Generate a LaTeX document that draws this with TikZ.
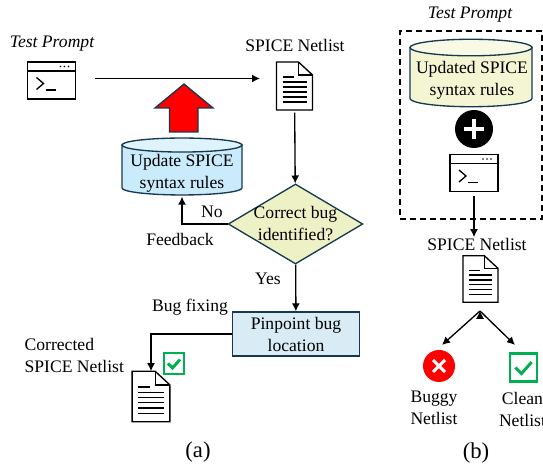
\documentclass[tikz,border=0pt]{standalone}
\usepackage{fontspec}
\setmainfont{Liberation Serif}
\usepackage{tikz}
\usetikzlibrary{arrows.meta,shapes.geometric}
\definecolor{navyline}{HTML}{17394F}
\definecolor{okgreen}{HTML}{00B050}
\definecolor{rulesblue}{HTML}{C9EBFB}
\definecolor{rulestop}{HTML}{DFF3FC}
\definecolor{rulescream}{HTML}{F4F5D2}
\definecolor{rulescreamtop}{HTML}{F9FAE6}
\definecolor{diamondfill}{HTML}{EEF1C6}
\definecolor{boxfill}{HTML}{D9ECF5}

\tikzset{
  >={Latex[length=6pt,width=6pt]},
  every node/.style={font=\fontsize{13.2}{16.5}\selectfont, align=center, inner sep=0pt},
  every path/.style={line width=1pt},
  slot/.style={minimum width=#1, minimum height=#1},
  decision/.style={draw=navyline, diamond, aspect=1.69, minimum width=101pt, minimum height=60pt, fill=diamondfill},
  caption/.style={font=\fontsize{17}{20}\selectfont},
  pics/dbdrum/.style n args={5}{code={
    \draw[navyline, fill=#4] (-#1,#3) -- (-#1,-#3) arc[start angle=180, end angle=360, x radius=#1, y radius=#2] -- (#1,#3) -- cycle;
    \draw[navyline, fill=#5] (0pt,#3) ellipse[x radius=#1, y radius=#2];
  }},
  docicon/.pic={
    \draw[fill=white, line join=miter] (-18,-24) -- (4,-24) -- (18,-11) -- (18,24) -- (-18,24) -- cycle;
    \draw (4,-24) -- (4,-11) -- (18,-11);
    \draw (-12,-9) -- (-1,-9);
    \foreach \yy in {-4,1,6,11,16} \draw (-12,\yy) -- (12,\yy);
  },
  promptwin/.pic={
    \draw[fill=white] (-24,-18.5) rectangle (24,18.5);
    \draw (-24,-9.5) -- (24,-9.5);
    \foreach \xx in {9,13,17} \fill (\xx,-14) circle (0.9);
    \draw (-15,-3) -- (-8,3) -- (-15,9);
    \draw (-6,9.5) -- (4,9.5);
  },
  tickbox/.pic={
    \draw[okgreen, line width=2.2pt, fill=white] (-10,-10.5) rectangle (10,10.5);
    \draw[okgreen, line width=2.2pt] (-6,0) -- (-1.5,4.5) -- (6,-4);
  },
  crossmark/.pic={
    \draw[white, line width=2.2pt] (-6,-6) -- (6,6) (-6,6) -- (6,-6);
  },
  plusmark/.pic={
    \draw[white, line width=3.6pt] (-10,0) -- (10,0) (0,-10) -- (0,10);
  },
}

\begin{document}
\begin{tikzpicture}[x=0.75pt, y=-0.75pt]
  \useasboundingbox (0,0) rectangle (543,466);

  % panel (a)
  \node (prompta) at (52,44) {\itshape Test Prompt};
  \node[slot=28pt] (wina) at (51.5,80.5) {};
  \pic at (wina) {promptwin};
  \node (neta) at (295,45) {SPICE Netlist};
  \node[slot=27pt] (doca) at (294.5,86) {};
  \pic at (doca) {docicon};
  \coordinate (feedout) at (95,78.5);
  \coordinate (feedin) at (260,78.5);

  \pic at (182,166.5) {dbdrum={45pt}{5.25pt}{16.1pt}{rulesblue}{rulestop}};
  \node[minimum width=90pt, minimum height=34.5pt] (update) at (182,173) {Update SPICE\\syntax rules};
  \node[decision, label={[align=center]center:Correct bug\\identified?}] (check) at (295.5,224) {};
  \node[draw=navyline, fill=boxfill, minimum width=95pt, minimum height=33pt] (locate) at (296,334) {Pinpoint bug\\location};
  \node[slot=29pt] (docb) at (151,396.5) {};
  \pic[scale=1.05] at (docb) {docicon};
  \node[slot=15pt] (tickb) at (174,363.5) {};
  \pic at (tickb) {tickbox};

  \node (no) at (212,212) {No};
  \node (feedback) at (180,239) {Feedback};
  \node (yes) at (268,279) {Yes};
  \node (fixing) at (190,307) {Bug fixing};
  \node[align=left, anchor=west] (corrected) at (24,355) {Corrected\\SPICE Netlist};
  \node[caption] (capa) at (198,452) {(a)};

  \draw[->] (feedout) -- (feedin);
  \draw[->, shorten <=6pt] (doca) edge (check);
  \draw[->] (check) -| (update);
  \draw[->] (check) edge (locate);
  \draw[->, shorten >=4pt] (locate) -| (docb);

  \draw[navyline, fill=red, miter limit=10] (184,84) -- (213,108) -- (198,108) -- (198,132) -- (169.5,132) -- (169.5,108) -- (155,108) -- cycle;

  % panel (b)
  \node (promptb) at (470,15) {\itshape Test Prompt};
  \node[draw, dash pattern=on 4.5pt off 3pt, minimum width=106.5pt, minimum height=141pt] (frame) at (471,125) {};
  \pic at (471,73) {dbdrum={45.75pt}{6.2pt}{19.1pt}{rulescream}{rulescreamtop}};
  \node (updated) at (472,80) {Updated SPICE\\syntax rules};
  \node[circle, fill=black, minimum size=28.5pt] (plus) at (474,129) {};
  \pic at (plus) {plusmark};
  \node[slot=28pt] (winb) at (474,173) {};
  \pic at (winb) {promptwin};
  \node (netb) at (477,244) {SPICE Netlist};
  \node[slot=27pt] (docc) at (480.5,279) {};
  \pic[scale=0.97] at (docc) {docicon};
  \coordinate (split) at (480,311);
  \coordinate (badin) at (442,345);
  \coordinate (cleanin) at (515,345);
  \node[circle, fill=red, minimum size=24pt] (bad) at (439,366) {};
  \pic at (bad) {crossmark};
  \node[slot=20pt] (clean) at (523.5,367.5) {};
  \pic[scale=1.35] at (clean) {tickbox};
  \node (buggy) at (434,408) {Buggy\\Netlist};
  \node (cleannet) at (522.5,409) {Clean\\Netlist};
  \node[caption] (capb) at (476,453) {(b)};

  \draw[->, shorten <=3pt] (winb.south) -- (netb.north -| winb);
  \draw[->] (split) edge (badin);
  \draw[->] (split) edge (cleanin);
\end{tikzpicture}
\end{document}
